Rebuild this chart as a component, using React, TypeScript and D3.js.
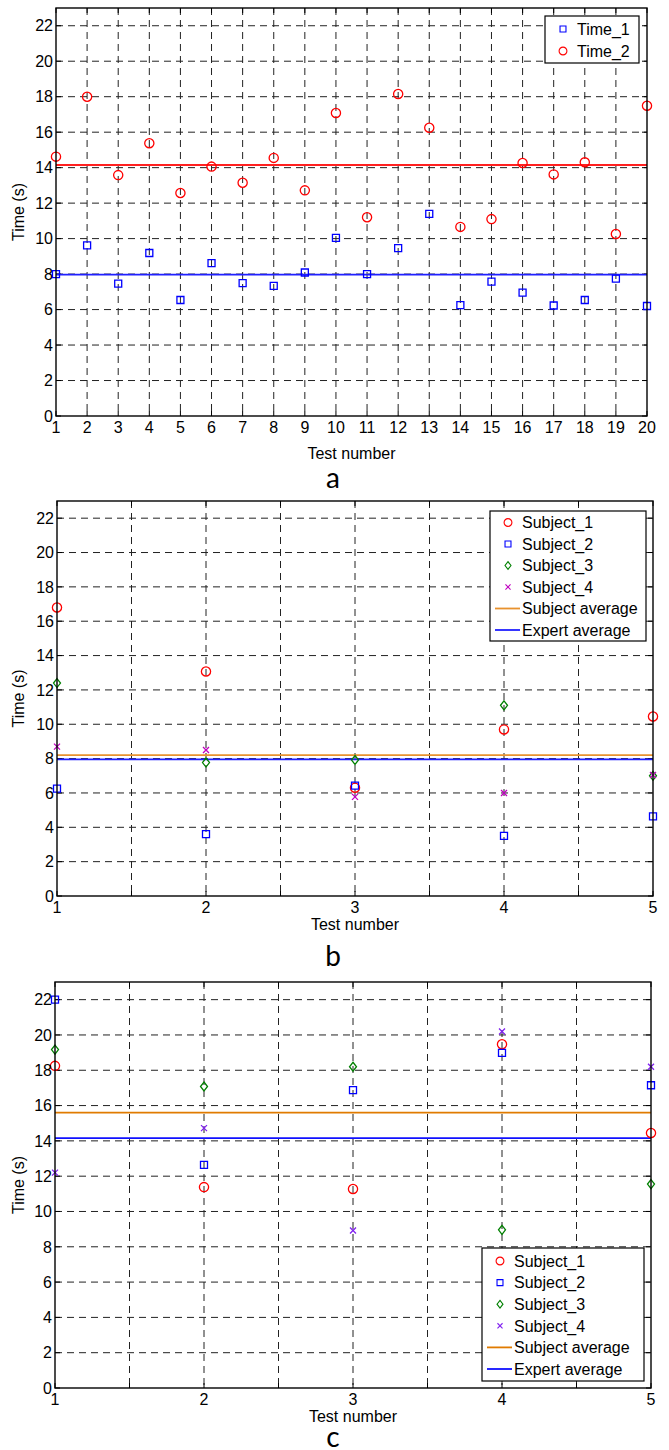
import React, { useEffect, useRef } from "react";
import * as d3 from "d3";

// panel a: 20 tests, two time series
const testsA = [1, 2, 3, 4, 5, 6, 7, 8, 9, 10, 11, 12, 13, 14, 15, 16, 17, 18, 19, 20];
const time1 = [8.0, 9.62, 7.46, 9.19, 6.54, 8.62, 7.49, 7.34, 8.09, 10.04, 8.0, 9.46, 11.39, 6.25, 7.57, 6.95, 6.23, 6.54, 7.74, 6.2];
const time2 = [14.62, 18.0, 13.58, 15.38, 12.57, 14.06, 13.15, 14.55, 12.72, 17.08, 11.2, 18.15, 16.25, 10.66, 11.1, 14.26, 13.62, 14.3, 10.26, 17.49];
const time1Avg = 7.97;
const time2Avg = 14.15;

// panels b and c: 5 tests, four subjects
const testsBC = [1, 2, 3, 4, 5];
const bSubject1 = [16.8, 13.07, 6.3, 9.7, 10.45];
const bSubject2 = [6.25, 3.6, 6.43, 3.5, 4.64];
const bSubject3 = [12.4, 7.77, 7.92, 11.1, 7.0];
const bSubject4 = [8.7, 8.5, 5.77, 6.0, 7.05];
const bSubjectAvg = 8.2;
const bExpertAvg = 7.96;

const cSubject1 = [18.25, 11.38, 11.27, 19.47, 14.45];
const cSubject2 = [22.0, 12.64, 16.87, 18.98, 17.15];
const cSubject3 = [19.17, 17.08, 18.2, 8.96, 11.55];
const cSubject4 = [12.2, 14.72, 8.92, 20.2, 18.2];
const cSubjectAvg = 15.6;
const cExpertAvg = 14.15;

const yTicks = [0, 2, 4, 6, 8, 10, 12, 14, 16, 18, 20, 22];
const xGridBC = [1, 1.5, 2, 2.5, 3, 3.5, 4, 4.5, 5];

const FONT = "'Liberation Sans', Arial, sans-serif";

function markerPath(shape: string) {
  if (shape === "square") return "M-3.5,-3.5H3.5V3.5H-3.5Z";
  if (shape === "diamond") return "M0,-4.5L3.5,0L0,4.5L-3.5,0Z";
  if (shape === "x") return "M-3,-3L3,3M-3,3L3,-3";
  return d3.arc()({ innerRadius: 0, outerRadius: 4.6, startAngle: 0, endAngle: 2 * Math.PI }) as string;
}

function drawPanel(svg: any, cfg: any) {
  const g = svg.append("g");
  const x = d3.scaleLinear().domain(cfg.xDomain).range([cfg.left, cfg.right]);
  const y = d3.scaleLinear().domain([0, 23]).range([cfg.bottom, cfg.top]);

  // dashed grid
  g.selectAll("line.hgrid").data(yTicks.filter((v) => v > 0)).join("line")
    .attr("x1", cfg.left).attr("x2", cfg.right)
    .attr("y1", (d: number) => y(d)).attr("y2", (d: number) => y(d))
    .attr("stroke", "#222").attr("stroke-dasharray", "7,5");
  g.selectAll("line.vgrid").data(cfg.xGrid.filter((v: number) => v > cfg.xDomain[0] && v < cfg.xDomain[1])).join("line")
    .attr("y1", cfg.top).attr("y2", cfg.bottom)
    .attr("x1", (d: number) => x(d)).attr("x2", (d: number) => x(d))
    .attr("stroke", "#222").attr("stroke-dasharray", "7,5");

  // tick marks, all four sides
  const tk = 5;
  const ticks = g.append("g").attr("stroke", "#000").attr("stroke-width", 1);
  yTicks.forEach((v) => {
    ticks.append("line").attr("x1", cfg.left).attr("x2", cfg.left + tk).attr("y1", y(v)).attr("y2", y(v));
    ticks.append("line").attr("x1", cfg.right).attr("x2", cfg.right - tk).attr("y1", y(v)).attr("y2", y(v));
  });
  cfg.xGrid.forEach((v: number) => {
    ticks.append("line").attr("x1", x(v)).attr("x2", x(v)).attr("y1", cfg.bottom).attr("y2", cfg.bottom - tk);
    ticks.append("line").attr("x1", x(v)).attr("x2", x(v)).attr("y1", cfg.top).attr("y2", cfg.top + tk);
  });

  // average lines
  cfg.lines.forEach((l: any) => {
    g.append("line").attr("x1", cfg.left).attr("x2", cfg.right)
      .attr("y1", y(l.value)).attr("y2", y(l.value))
      .attr("stroke", l.color).attr("stroke-width", 1.8);
  });

  // points
  cfg.series.forEach((s: any) => {
    g.append("g").selectAll("path").data(s.values).join("path")
      .attr("d", markerPath(s.shape))
      .attr("transform", (d: number, i: number) => `translate(${x(cfg.xs[i])},${y(d)})`)
      .attr("fill", "none").attr("stroke", s.color).attr("stroke-width", 1.3);
  });

  // axes box
  g.append("rect").attr("x", cfg.left).attr("y", cfg.top)
    .attr("width", cfg.right - cfg.left).attr("height", cfg.bottom - cfg.top)
    .attr("fill", "none").attr("stroke", "#000").attr("stroke-width", 1.4);

  // tick labels
  g.selectAll("text.yt").data(yTicks).join("text")
    .attr("x", cfg.left - 3).attr("y", (d: number) => y(d)).attr("dy", "0.36em")
    .attr("text-anchor", "end").attr("font-family", FONT).attr("font-size", 16)
    .text((d: number) => d);
  g.selectAll("text.xt").data(cfg.xLabels).join("text")
    .attr("x", (d: number) => x(d)).attr("y", cfg.bottom + 17)
    .attr("text-anchor", "middle").attr("font-family", FONT).attr("font-size", 16)
    .text((d: number) => d);

  g.append("text").attr("x", (cfg.left + cfg.right) / 2).attr("y", cfg.bottom + cfg.xLabelGap)
    .attr("text-anchor", "middle").attr("font-family", FONT).attr("font-size", 16)
    .text("Test number");
  g.append("text")
    .attr("transform", `translate(24,${(cfg.top + cfg.bottom) / 2}) rotate(-90)`)
    .attr("text-anchor", "middle").attr("font-family", FONT).attr("font-size", 16)
    .text("Time (s)");
  g.append("text").attr("x", 333).attr("y", cfg.letterY)
    .attr("text-anchor", "middle").attr("font-family", "Lato, 'Open Sans', sans-serif").attr("font-size", 28)
    .text(cfg.letter);

  // legend
  const lg = cfg.legend;
  const items = [...cfg.series.map((s: any) => ({ ...s, kind: "marker" })), ...cfg.lines.filter((l: any) => l.label).map((l: any) => ({ ...l, kind: "line" }))];
  const box = g.append("g");
  box.append("rect").attr("x", lg.x).attr("y", lg.y).attr("width", lg.w)
    .attr("height", lg.h).attr("fill", "#fff").attr("stroke", "#000").attr("stroke-width", 1.2);
  items.forEach((it: any, i: number) => {
    const cy = lg.y + lg.first + i * lg.step;
    if (it.kind === "marker") {
      box.append("path").attr("d", markerPath(it.shape))
        .attr("transform", `translate(${lg.x + 18},${cy}) scale(0.85)`)
        .attr("fill", "none").attr("stroke", it.color).attr("stroke-width", 1.3);
    } else {
      box.append("line").attr("x1", lg.x + 5).attr("x2", lg.x + 30).attr("y1", cy).attr("y2", cy)
        .attr("stroke", it.color).attr("stroke-width", 1.8);
    }
    box.append("text").attr("x", lg.x + 32).attr("y", cy).attr("dy", "0.36em")
      .attr("font-family", FONT).attr("font-size", 16).text(it.label);
  });
}

export default function App() {
  const ref = useRef<SVGSVGElement>(null);

  useEffect(() => {
    const svg = d3.select(ref.current);
    svg.selectAll("*").remove();

    drawPanel(svg, {
      top: 8, bottom: 416, left: 56, right: 647, xDomain: [1, 20], xs: testsA,
      xGrid: testsA, xLabels: testsA, xLabelGap: 43, letter: "a", letterY: 488,
      series: [
        { label: "Time_1", values: time1, shape: "square", color: "#0000ff" },
        { label: "Time_2", values: time2, shape: "circle", color: "#ff0000" },
      ],
      lines: [
        { value: time2Avg, color: "#ff2020" },
        { value: time1Avg, color: "#2020ff" },
      ],
      legend: { x: 545, y: 16, w: 94, h: 47, first: 13, step: 22 },
    });

    drawPanel(svg, {
      top: 501, bottom: 896, left: 57, right: 653, xDomain: [1, 5], xs: testsBC,
      xGrid: xGridBC, xLabels: testsBC, xLabelGap: 34, letter: "b", letterY: 966,
      series: [
        { label: "Subject_1", values: bSubject1, shape: "circle", color: "#ff0000" },
        { label: "Subject_2", values: bSubject2, shape: "square", color: "#0000ff" },
        { label: "Subject_3", values: bSubject3, shape: "diamond", color: "#008000" },
        { label: "Subject_4", values: bSubject4, shape: "x", color: "#c000c0" },
      ],
      lines: [
        { label: "Subject average", value: bSubjectAvg, color: "#e8922e" },
        { label: "Expert average", value: bExpertAvg, color: "#2020ff" },
      ],
      legend: { x: 490, y: 511, w: 156, h: 130, first: 11.5, step: 21.5 },
    });

    drawPanel(svg, {
      top: 982, bottom: 1388, left: 55, right: 651, xDomain: [1, 5], xs: testsBC,
      xGrid: xGridBC, xLabels: testsBC, xLabelGap: 34, letter: "c", letterY: 1447,
      series: [
        { label: "Subject_1", values: cSubject1, shape: "circle", color: "#ff0000" },
        { label: "Subject_2", values: cSubject2, shape: "square", color: "#0000ff" },
        { label: "Subject_3", values: cSubject3, shape: "diamond", color: "#008000" },
        { label: "Subject_4", values: cSubject4, shape: "x", color: "#8020f0" },
      ],
      lines: [
        { label: "Subject average", value: cSubjectAvg, color: "#e07b00" },
        { label: "Expert average", value: cExpertAvg, color: "#1010ff" },
      ],
      legend: { x: 482, y: 1248, w: 162, h: 133, first: 13, step: 21.6 },
    });
  }, []);

  return (
    <svg
      ref={ref}
      width={669}
      height={1450}
      style={{ position: "absolute", left: 0, top: 0, background: "#fff" }}
    />
  );
}
